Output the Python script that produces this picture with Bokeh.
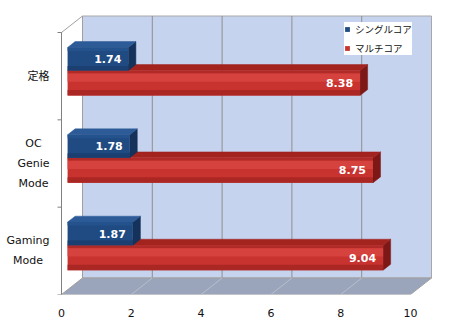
from bokeh.plotting import figure
from bokeh.models import FixedTicker, Legend, LegendItem
from bokeh.core.properties import value
from bokeh.embed import file_html
from bokeh.resources import INLINE

# ---- data ----
categories = ["Gaming\nMode", "OC\nGenie\nMode", "定格"]   # bottom to top
single_core = [1.87, 1.78, 1.74]
multi_core = [9.04, 8.75, 8.38]
series_names = ["シングルコア", "マルチコア"]
x_ticks = [0, 2, 4, 6, 8, 10]

# ---- layout constants (pixels) ----
W, H = 450, 325
FRAME_H = 294
X0PIX = 61.0
K = 34.9          # px per value unit
CH = 87.33        # px per category
XMAX = 10
DX = 21.0 / K     # depth offset in x units
DY = 16.5 / CH    # depth offset in y units
F1, F2 = 0.29, 0.65

p = figure(width=W, height=H, output_backend="svg", toolbar_location=None,
           x_range=(-X0PIX / K, (W - X0PIX) / K), y_range=(0, FRAME_H / CH),
           min_border_left=0, min_border_right=0, min_border_top=0,
           min_border_bottom=H - FRAME_H, y_axis_location=None)
p.outline_line_color = None
p.grid.visible = False
p.background_fill_color = "white"
p.border_fill_color = "white"

xa = p.xaxis[0]
xa.ticker = FixedTicker(ticks=x_ticks)
xa.axis_line_color = None
xa.major_tick_line_color = None
xa.minor_tick_line_color = None
xa.major_label_standoff = 8
xa.major_label_text_font = "DejaVu Sans"
xa.major_label_text_font_size = "11px"
xa.major_label_text_color = "#111111"

ncat = len(categories)

# back wall
p.quad(left=[DX], right=[XMAX + DX], bottom=[DY], top=[ncat + DY],
       fill_color="#c5d3ee", line_color="#a8a8a8", line_width=1)
# back wall gridlines
gx = [t + DX for t in x_ticks[1:-1]]
p.segment(x0=gx, y0=[DY] * len(gx), x1=gx, y1=[ncat + DY] * len(gx),
          line_color="#8f8f8f", line_width=1)
# floor
p.patch(x=[0, XMAX, XMAX + DX, DX], y=[0, 0, DY, DY],
        fill_color="#9aa5bb", line_color="#a0a0a0", line_width=1)
fx = x_ticks[1:-1]
p.segment(x0=fx, y0=[0] * len(fx), x1=[t + DX for t in fx], y1=[DY] * len(fx),
          line_color="#b8bfcc", line_width=1)
# left wall
p.patch(x=[0, DX, DX, 0], y=[0, DY, ncat + DY, ncat],
        fill_color="white", line_color="#a0a0a0", line_width=1)
# left axis line and category boundary ticks
p.segment(x0=[0], y0=[0], x1=[0], y1=[ncat], line_color="#808080", line_width=1)
tb = list(range(ncat + 1))
p.segment(x0=[-4 / K] * len(tb), y0=tb, x1=[0] * len(tb), y1=tb,
          line_color="#808080", line_width=1)

# ---- 3D bars ----
x0 = F1 * DX
ox, oy = F1 * DX, F1 * DY
ddx, ddy = (F2 - F1) * DX, (F2 - F1) * DY


def draw_bars(vals, lo, hi, front_bands, top_col, side_col):
    bot = [c + lo + oy for c in range(ncat)]
    top = [c + hi + oy for c in range(ncat)]
    ends = [v + ox for v in vals]
    # side faces
    p.patches(xs=[[e, e, e + ddx, e + ddx] for e in ends],
              ys=[[b, t, t + ddy, b + ddy] for b, t in zip(bot, top)],
              fill_color=side_col, line_color=side_col, line_width=0.5)
    # top faces
    p.patches(xs=[[x0, e, e + ddx, x0 + ddx] for e in ends],
              ys=[[t, t, t + ddy, t + ddy] for t in top],
              fill_color=top_col, line_color=top_col, line_width=0.5)
    # front faces (banded gradient)
    main = None
    for (fa, fb, col) in front_bands:
        r = p.quad(left=[x0] * ncat, right=ends,
                   bottom=[t - fb * (t - b) for b, t in zip(bot, top)],
                   top=[t - fa * (t - b) for b, t in zip(bot, top)],
                   fill_color=col, line_color=None)
        if main is None:
            main = r
    return main, ends, bot, top


red_r, red_ends, red_bot, red_top = draw_bars(
    multi_core, 0.224, 0.51,
    [(0.0, 1.0, "#c8332f"), (0.0, 0.12, "#b02a27"), (0.12, 0.45, "#d6433e"),
     (0.78, 1.0, "#ab2724")],
    "#a3231f", "#7e1816")
blue_r, blue_ends, blue_bot, blue_top = draw_bars(
    single_core, 0.51, 0.774,
    [(0.0, 1.0, "#1f4a82"), (0.0, 0.15, "#24528c"), (0.8, 1.0, "#1a3f70")],
    "#2c5b98", "#14325a")

# value labels
lab_x = [e - 7 / K for e in red_ends + blue_ends]
lab_y = [(b + t) / 2 for b, t in zip(red_bot + blue_bot, red_top + blue_top)]
lab_t = ["%.2f" % v for v in multi_core + single_core]
p.text(x=lab_x, y=lab_y, text=lab_t, text_align="right", text_baseline="middle",
       text_color="white", text_font=value("DejaVu Sans"), text_font_style="bold",
       text_font_size="11px")

# category labels (lines centered, block right-anchored)
p.text(x=[-12 / K] * ncat, y=[c + 0.5 for c in range(ncat)], text=categories,
       anchor="center_right", text_align="center", text_baseline="middle",
       text_color="#111111",
       text_font=value("DejaVu Sans, Noto Sans CJK JP"), text_font_size="11px",
       text_line_height=1.55)

# legend
legend = Legend(items=[LegendItem(label=series_names[0], renderers=[blue_r]),
                       LegendItem(label=series_names[1], renderers=[red_r])],
                location=(344, FRAME_H - 55), orientation="vertical",
                padding=8, spacing=5, margin=0,
                glyph_width=6, glyph_height=6, label_standoff=5,
                label_height=12, label_width=20,
                label_text_font="Noto Sans CJK JP",
                label_text_font_size="9.5px", label_text_color="#111111",
                border_line_color=None, background_fill_color="white",
                background_fill_alpha=1.0)
p.add_layout(legend, "center")

open("out.html", "w").write(file_html(p, INLINE))
